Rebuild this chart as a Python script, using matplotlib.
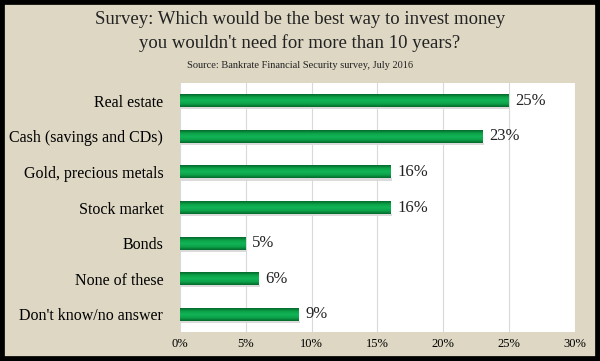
import numpy as np
import matplotlib.pyplot as plt
from matplotlib.colors import LinearSegmentedColormap

# data
categories = ['Real estate', 'Cash (savings and CDs)', 'Gold, precious metals',
              'Stock market', 'Bonds', 'None of these', "Don't know/no answer"]
values = [25, 23, 16, 16, 5, 6, 9]
xticks = [0, 5, 10, 15, 20, 25, 30]

bg = '#ddd7c3'
plt.rcParams['font.family'] = ['Liberation Serif', 'DejaVu Serif']

fig = plt.figure(figsize=(6, 3.61), dpi=100, facecolor=bg)
fig.patches.append(plt.Rectangle((0, 0), 1, 1, transform=fig.transFigure,
                                 fill=False, edgecolor='black', linewidth=7))
ax = fig.add_axes([0.30, 0.08, 0.658, 0.69])
ax.set_facecolor('white')

ypos = np.arange(len(categories))
h = 0.36
cmap = LinearSegmentedColormap.from_list('g', ['#05692c', '#0da24a', '#12b457', '#0ca248', '#05692c'])
grad = np.linspace(0, 1, 64).reshape(-1, 1)

bars = ax.barh(ypos, values, height=h, color='#10a24b', zorder=2)
for b in bars:
    x0, y0 = b.get_x(), b.get_y()
    ax.imshow(grad, cmap=cmap, aspect='auto', zorder=3,
              extent=(x0, x0 + b.get_width(), y0, y0 + b.get_height()))
    # soft shadow under the bar
    ax.add_patch(plt.Rectangle((x0 + 0.1, y0 + b.get_height()), b.get_width(), 0.06,
                               color='#999999', alpha=0.35, zorder=1, linewidth=0))
    ax.text(b.get_width() + 0.5, y0 + b.get_height() / 2, f'{int(b.get_width())}%',
            va='center', ha='left', fontsize=12, color='#222222', zorder=4)

ax.set_xlim(0, 30)
ax.set_ylim(len(categories) - 0.5, -0.5)
ax.set_xticks(xticks)
ax.set_xticklabels([f'{t}%' for t in xticks], fontsize=9)
ax.set_yticks(ypos)
ax.set_yticklabels(categories, fontsize=11.5)
ax.tick_params(length=0, pad=4)
ax.tick_params(axis='y', pad=12)
ax.grid(axis='x', color='#d9d9d9', linewidth=0.8, zorder=0)
for s in ax.spines.values():
    s.set_visible(False)

fig.text(0.5, 0.945, 'Survey: Which would be the best way to invest money',
         ha='center', va='center', fontsize=13.5, color='#222222')
fig.text(0.5, 0.88, "you wouldn't need for more than 10 years?",
         ha='center', va='center', fontsize=13.5, color='#222222')
fig.text(0.5, 0.818, 'Source: Bankrate Financial Security survey, July 2016',
         ha='center', va='center', fontsize=7.5, color='#222222')

fig.savefig('out.png', dpi=100, facecolor=bg)
